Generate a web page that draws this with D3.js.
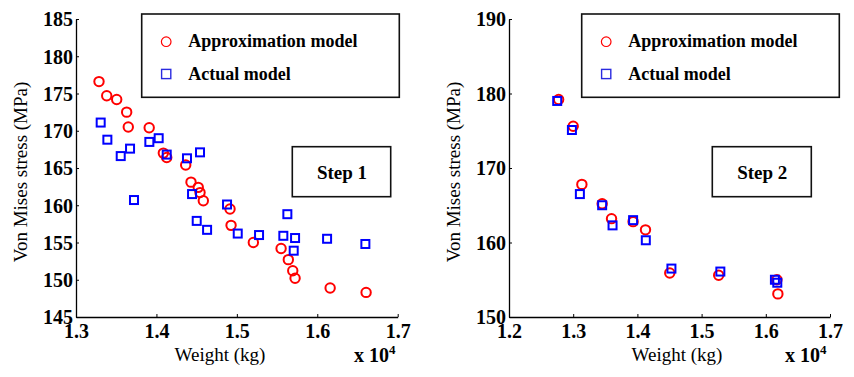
<!DOCTYPE html>
<html>
<head>
<meta charset="utf-8">
<script src="https://cdn.jsdelivr.net/npm/d3@7"></script>
<style>
  html, body { margin: 0; padding: 0; background: #fff; }
  svg { display: block; }
</style>
</head>
<body>
<svg id="chart" width="854" height="377"></svg>
<script>
// Weights are in units of 10^4 kg, stresses in MPa.
const step1ApproxWeight = [1.3286, 1.3382, 1.3506, 1.3630, 1.3650, 1.3910, 1.4086, 1.4128, 1.4364, 1.4430, 1.4520, 1.4542, 1.4583, 1.4915, 1.4928, 1.5205, 1.5550, 1.5640, 1.5695, 1.5724, 1.6160, 1.6607];
const step1ApproxStress = [176.6, 174.7, 174.2, 172.5, 170.5, 170.4, 167.0, 166.4, 165.4, 163.1, 162.4, 161.7, 160.6, 159.5, 157.3, 155.0, 154.2, 152.7, 151.2, 150.2, 148.9, 148.3];
const step1ActualWeight = [1.3307, 1.3390, 1.3556, 1.3672, 1.3721, 1.3912, 1.4028, 1.4128, 1.4380, 1.4542, 1.4443, 1.4501, 1.4630, 1.4878, 1.5011, 1.5276, 1.5578, 1.5628, 1.5724, 1.5707, 1.6122, 1.6598];
const step1ActualStress = [171.1, 168.8, 166.6, 167.6, 160.7, 168.5, 169.0, 166.8, 166.3, 167.1, 161.5, 157.9, 156.7, 160.1, 156.2, 156.0, 155.9, 158.8, 155.6, 153.9, 155.5, 154.8];

const step2ApproxWeight = [1.2773, 1.3000, 1.3135, 1.3451, 1.3597, 1.3933, 1.4126, 1.4504, 1.5266, 1.6173, 1.6188];
const step2ApproxStress = [179.2, 175.6, 167.8, 165.2, 163.2, 162.8, 161.7, 155.9, 155.6, 155.0, 153.1];
const step2ActualWeight = [1.2751, 1.2980, 1.3104, 1.3451, 1.3613, 1.3933, 1.4131, 1.4530, 1.5292, 1.6142, 1.6179];
const step2ActualStress = [179.0, 175.1, 166.5, 165.0, 162.3, 163.0, 160.3, 156.5, 156.1, 155.0, 154.6];

const step1XTicks = [1.3, 1.4, 1.5, 1.6, 1.7];
const step1YTicks = [145, 150, 155, 160, 165, 170, 175, 180, 185];
const step2XTicks = [1.2, 1.3, 1.4, 1.5, 1.6, 1.7];
const step2YTicks = [150, 160, 170, 180, 190];

const legendLabels = ["Approximation model", "Actual model"];
const xAxisTitle = "Weight (kg)";
const yAxisTitle = "Von Mises stress (MPa)";

const RED = "#ff0000";
const BLUE = "#0000ff";
const SERIF = '"Liberation Serif", "Times New Roman", serif';

const svg = d3.select("#chart");
svg.append("rect").attr("width", 854).attr("height", 377).attr("fill", "#fff");

function zip(xs, ys) { return xs.map((x, i) => ({ x, y: ys[i] })); }

function drawPanel(cfg) {
  const x = d3.scaleLinear().domain(cfg.xDomain).range([cfg.left, cfg.right]);
  const y = d3.scaleLinear().domain(cfg.yDomain).range([317, 19]);
  const g = svg.append("g");

  // axes: ticks point into the plot
  const xAxis = g.append("g").attr("transform", "translate(0,317)")
    .call(d3.axisBottom(x).tickValues(cfg.xTicks).tickFormat(d3.format(".1f"))
      .tickSizeInner(-3).tickSizeOuter(0).tickPadding(7));
  const yAxis = g.append("g").attr("transform", `translate(${cfg.left},0)`)
    .call(d3.axisLeft(y).tickValues(cfg.yTicks).tickFormat(d3.format("d"))
      .tickSizeInner(-3).tickSizeOuter(0).tickPadding(3));
  [xAxis, yAxis].forEach(a => {
    a.attr("font-family", SERIF).attr("font-size", 20).attr("font-weight", "bold");
    a.select(".domain").attr("stroke", "#000").attr("stroke-width", 1.3);
    a.selectAll(".tick line").attr("stroke", "#000").attr("stroke-width", 1);
    a.selectAll(".tick text").attr("fill", "#000")
      .attr("font-family", SERIF).attr("font-size", 20).attr("font-weight", "bold");
  });
  yAxis.selectAll(".tick text").attr("dy", "0.34em");

  // data markers: circles beneath, squares on top
  g.append("g").selectAll("circle").data(zip(cfg.approxX, cfg.approxY)).join("circle")
    .attr("cx", d => x(d.x)).attr("cy", d => y(d.y)).attr("r", 4.7)
    .attr("fill", "none").attr("stroke", RED).attr("stroke-width", 2);
  const s = 8;
  g.append("g").selectAll("rect").data(zip(cfg.actualX, cfg.actualY)).join("rect")
    .attr("x", d => x(d.x) - s / 2).attr("y", d => y(d.y) - s / 2)
    .attr("width", s).attr("height", s)
    .attr("fill", "none").attr("stroke", BLUE).attr("stroke-width", 2);

  // axis titles
  g.append("text").attr("x", cfg.xTitleX).attr("y", 361)
    .attr("text-anchor", "middle").attr("font-family", SERIF).attr("font-size", 19)
    .text(xAxisTitle);
  const mult = g.append("text").attr("x", cfg.multX).attr("y", 362)
    .attr("font-family", SERIF).attr("font-size", 20).attr("font-weight", "bold");
  mult.append("tspan").text("x 10");
  mult.append("tspan").attr("dy", -8).attr("font-size", 13).text("4");
  g.append("text")
    .attr("transform", `translate(${cfg.yTitleX},172) rotate(-90)`)
    .attr("text-anchor", "middle").attr("font-family", SERIF).attr("font-size", 19)
    .text(yAxisTitle);

  // legend
  const lg = g.append("g").attr("transform", `translate(${cfg.legendX},14)`);
  lg.append("rect").attr("x", 0).attr("y", 0).attr("width", 257.6).attr("height", 83.3)
    .attr("fill", "#fff").attr("stroke", "#111").attr("stroke-width", 1.6);
  lg.append("circle").attr("cx", 24.5).attr("cy", 27.7).attr("r", 4.8)
    .attr("fill", "none").attr("stroke", RED).attr("stroke-width", 1.2);
  lg.append("rect").attr("x", 24.5 - 4.6).attr("y", 60 - 4.6).attr("width", 9.2).attr("height", 9.2)
    .attr("fill", "none").attr("stroke", "#2a2ae0").attr("stroke-width", 1.4);
  legendLabels.forEach((t, i) => {
    lg.append("text").attr("x", 46.5).attr("y", i === 0 ? 33.3 : 66)
      .attr("font-family", SERIF).attr("font-size", 18).attr("font-weight", "bold").text(t);
  });

  // step annotation
  const sb = g.append("g");
  sb.append("rect").attr("x", cfg.stepX).attr("y", 146.7).attr("width", cfg.stepW).attr("height", 50)
    .attr("fill", "#fff").attr("stroke", "#111").attr("stroke-width", 1.6);
  sb.append("text").attr("x", cfg.stepX + cfg.stepW / 2 + 0.5).attr("y", 179)
    .attr("text-anchor", "middle").attr("font-family", SERIF).attr("font-size", 19)
    .attr("font-weight", "bold").text(cfg.stepLabel);
}

drawPanel({
  xDomain: [1.3, 1.7], yDomain: [145, 185], left: 76, right: 397.7,
  xTicks: step1XTicks, yTicks: step1YTicks,
  approxX: step1ApproxWeight, approxY: step1ApproxStress,
  actualX: step1ActualWeight, actualY: step1ActualStress,
  xTitleX: 220, multX: 354, yTitleX: 26.7,
  legendX: 141.7, stepX: 292.3, stepW: 98.4, stepLabel: "Step 1"
});

drawPanel({
  xDomain: [1.2, 1.7], yDomain: [150, 190], left: 509, right: 830,
  xTicks: step2XTicks, yTicks: step2YTicks,
  approxX: step2ApproxWeight, approxY: step2ApproxStress,
  actualX: step2ActualWeight, actualY: step2ActualStress,
  xTitleX: 677, multX: 785, yTitleX: 460,
  legendX: 581.7, stepX: 712.3, stepW: 99, stepLabel: "Step 2"
});
</script>
</body>
</html>
